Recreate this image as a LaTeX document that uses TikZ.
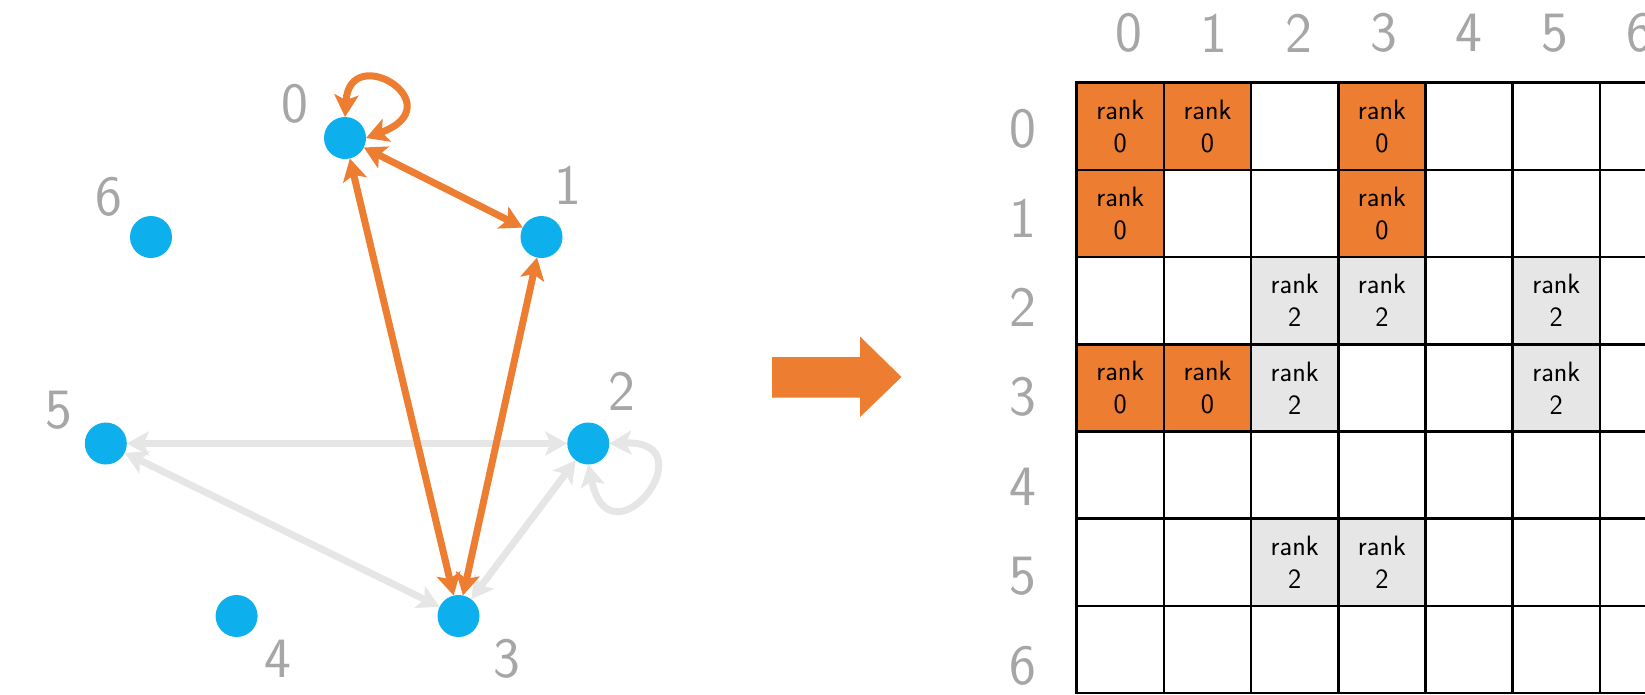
\documentclass[tikz,border=0pt]{standalone}
\usepackage{fontspec}
\usetikzlibrary{arrows.meta}
\definecolor{orng}{HTML}{ED7D31}
\definecolor{blu}{HTML}{0DB0EC}
\definecolor{lgray}{HTML}{E6E6E6}
\definecolor{lbl}{HTML}{A6A6A6}
\tikzset{
  vert/.style={circle, fill=blu, minimum size=42pt, inner sep=0pt, outer sep=0pt},
  numlbl/.style={text=lbl, font=\sffamily\fontsize{57}{60}\selectfont, inner sep=0pt},
  oedge/.style={draw=orng, line width=7pt, {Stealth[length=22pt,width=24pt,inset=5pt]}-{Stealth[length=22pt,width=24pt,inset=5pt]}},
  gedge/.style={draw=lgray, line width=7pt, {Stealth[length=22pt,width=24pt,inset=5pt]}-{Stealth[length=22pt,width=24pt,inset=5pt]}},
  cell/.style={draw=black, line width=2.5pt, minimum size=87.2pt, inner sep=0pt, outer sep=0pt,
    align=center, font=\sffamily\fontsize{28}{33}\selectfont},
  rk0/.style={cell, fill=orng},
  rk2/.style={cell, fill=lgray},
  bigarrow/.style={fill=orng, draw=none}
}
\begin{document}
\begin{tikzpicture}[x=1pt,y=-1pt]
\useasboundingbox (0,0) rectangle (1645,694);
\clip (0,0) rectangle (1645,694);
% graph vertices
\node[vert] (n0) at (345,138) {};
\node[vert] (n1) at (541.5,237) {};
\node[vert] (n2) at (588.3,443.5) {};
\node[vert] (n3) at (458.5,616) {};
\node[vert] (n4) at (236.6,616) {};
\node[vert] (n5) at (105.8,443.5) {};
\node[vert] (n6) at (151,237) {};
% vertex labels
\node[numlbl] (l0) at (294.6,103.5) {0};
\node[numlbl] (l1) at (567.9,185) {1};
\node[numlbl] (l2) at (621.9,391.6) {2};
\node[numlbl] (l3) at (506.7,659) {3};
\node[numlbl] (l4) at (278,659) {4};
\node[numlbl] (l5) at (59,410) {5};
\node[numlbl] (l6) at (108.5,197) {6};
% gray edges
\draw[gedge] (n5) -- (n2);
\draw[gedge] (n5) -- (n3);
\draw[gedge] (n2) -- (n3);
\draw[gedge] (n2.east) .. controls (710,440) and (610,570) .. (n2.south);
% orange edges
\draw[oedge] (n0) -- (n1);
\draw[oedge] (n0) -- (n3);
\draw[oedge] (n1) -- (n3);
\draw[oedge] (n0.north) .. controls (350,40) and (455,105) .. (n0.east);
% big arrow
\path[bigarrow] (772,357) -- (860,357) -- (860,336.5) -- (901.5,377) -- (860,417) -- (860,397.5) -- (772,397.5) -- cycle;
% matrix headers
\foreach \i in {0,...,6} {
  \node[numlbl] (ch\i) at ({1128.4+85.2*\i},33) {\i};
  \node[numlbl] (rh\i) at (1022.4,{128.3+89.6*\i}) {\i};
}
% matrix cells
\foreach \r in {0,...,6} {
  \foreach \c in {0,...,6} {
    \node[cell] (c\r\c) at ({1120.3+87.2*\c},{126.3+87.2*\r}) {};
  }
}
\foreach \r/\c in {0/0,0/1,0/3,1/0,1/3,3/0,3/1} {
  \node[rk0] at (c\r\c) {rank\\0};
}
\foreach \r/\c in {2/2,2/3,2/5,3/2,3/5,5/2,5/3} {
  \node[rk2] at (c\r\c) {rank\\2};
}
\end{tikzpicture}
\end{document}
